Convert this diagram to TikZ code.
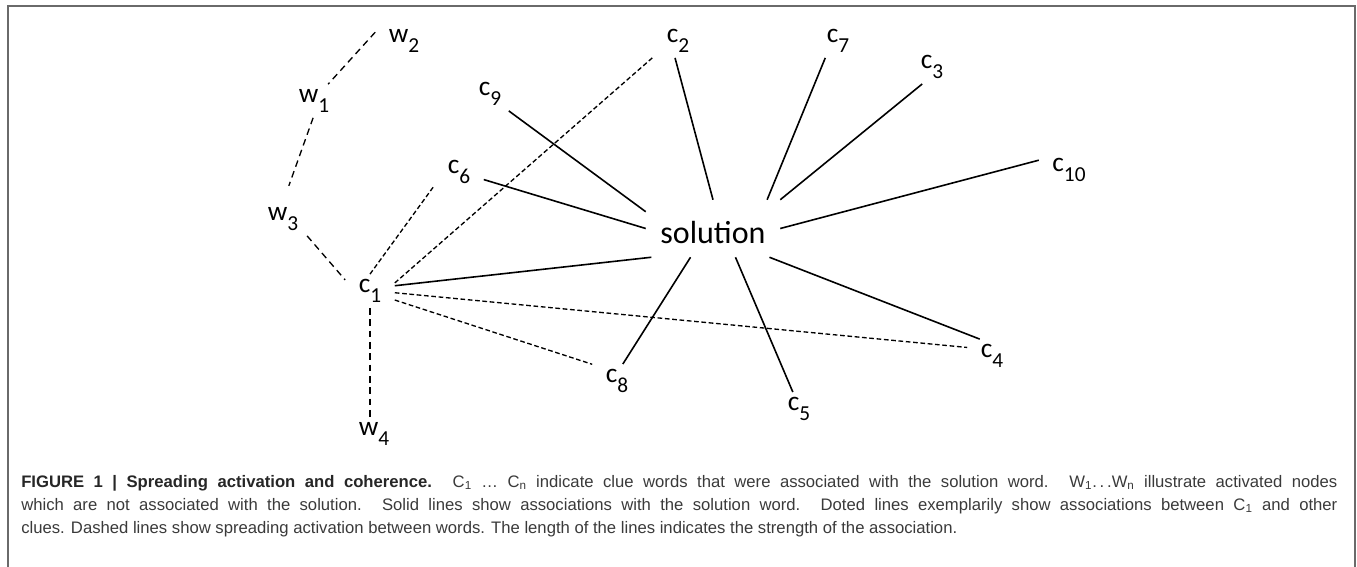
\documentclass[tikz,border=0pt]{standalone}
\usepackage{fontspec}
\setmainfont{Carlito}
\newfontfamily\capfont{Liberation Sans}
\usepackage{xcolor}
\usepackage{tikz}
\definecolor{framegray}{HTML}{6A6A6A}
\definecolor{captext}{HTML}{3A3A3A}
\newcommand{\lblsub}[1]{\raisebox{-7pt}{\fontsize{16}{16}\selectfont #1}}
\newcommand{\capline}[1]{\makebox[987pt][s]{#1}}

\begin{document}
\begin{tikzpicture}[x=0.75pt,y=-0.75pt,
  lbl/.style={inner xsep=10pt,inner ysep=4pt,font=\fontsize{20.5}{20.5}\selectfont},
  assoc/.style={line width=1.2pt},
  clue/.style={line width=1pt,dash pattern=on 3.5pt off 2pt},
  spread/.style={line width=1pt,dash pattern=on 5pt off 3.5pt}]
\useasboundingbox (0,0) rectangle (1357,567);
%Rahmen
\draw[framegray,line width=1.2pt] (8,567) -- (8,6) -- (1355,6) -- (1355,567);
%Woerter
\node[lbl] (w2) at (404,41) {w\lblsub{2}};
\node[lbl] (w1) at (314,101) {w\lblsub{1}};
\node[lbl] (w3) at (283,219) {w\lblsub{3}};
\node[lbl] (w4) at (374,434) {w\lblsub{4}};
%Hinweise
\node[lbl] (c1) at (370,291) {c\lblsub{1}};
\node[lbl] (c2) at (678,41) {c\lblsub{2}};
\node[lbl] (c3) at (932,67) {c\lblsub{3}};
\node[lbl] (c4) at (992,356) {c\lblsub{4}};
\node[lbl] (c5) at (799,409) {c\lblsub{5}};
\node[lbl] (c6) at (459,172) {c\lblsub{6}};
\node[lbl] (c7) at (838,41) {c\lblsub{7}};
\node[lbl] (c8) at (617,381) {c\lblsub{8}};
\node[lbl] (c9) at (490,94) {c\lblsub{9}};
\node[lbl] (c10) at (1069,170) {c\lblsub{10}};
%Loesung
\node[inner sep=0pt,text height=32.25pt,text depth=10.5pt,minimum width=100.5pt,
  font=\fontsize{24}{24}\selectfont] (sol) at (713,228.5) {solution};
%Assoziationen mit der Loesung
\draw[assoc] (c9.318) -- (sol.166);
\draw[assoc] (c6.343) -- (sol.180);
\draw[assoc] (c1.12) -- (sol.205);
\draw[assoc] (c2.260) -- (sol.90);
\draw[assoc] (c7.233) -- (sol.28);
\draw[assoc] (c3.240) -- (sol.north east);
\draw[assoc] (c10.162) -- (sol.east);
\draw[assoc] (c4.126) -- (sol.333);
\draw[assoc] (c5.110) -- (sol.308);
\draw[assoc] (c8.71) -- (sol.232);
%c1 und andere Hinweise
\draw[clue] (c1.90) -- (c6.209);
\draw[clue] (c1.18) -- (c2.213);
\draw[clue] (c1.-4) -- (c4.161);
\draw[clue] (c1.-20) -- (c8.146);
%Ausbreitung
\draw[spread] (w2.163) -- (w1.50);
\draw[spread,shorten >=13pt] (w1.267) -- (w3.north);
\draw[spread] (w3.325) -- (c1.156);
\draw[spread] (c1.south) -- (c1.south |- w4.north);
%Text
\node[anchor=north west,align=left,inner sep=0pt,text=captext,
  font=\capfont\fontsize{12.5}{17.25}\selectfont] (cap) at (21,475)
  {\capline{{\bfseries\color{black!85}FIGURE 1 | Spreading activation and coherence.} C\textsubscript{1} … C\textsubscript{n} indicate clue words that were associated with the solution word. W\textsubscript{1}.\,.\,.W\textsubscript{n} illustrate activated nodes}\\
  \capline{which are not associated with the solution. Solid lines show associations with the solution word. Doted lines exemplarily show associations between C\textsubscript{1} and other}\\
  clues. Dashed lines show spreading activation between words. The length of the lines indicates the strength of the association.};
\end{tikzpicture}
\end{document}
